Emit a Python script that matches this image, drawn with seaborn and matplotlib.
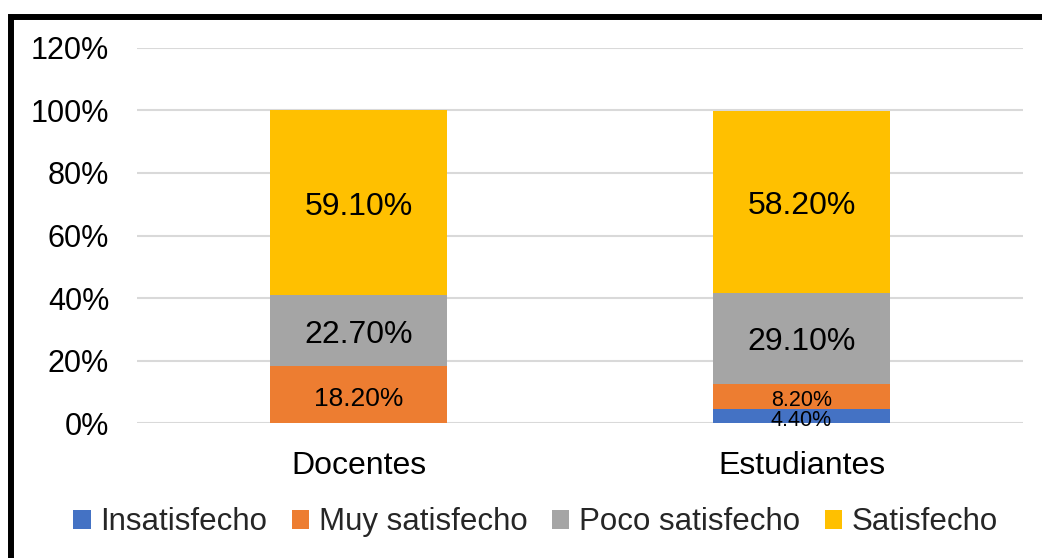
import matplotlib
matplotlib.use("Agg")
import matplotlib.pyplot as plt
from matplotlib.patches import Patch
from matplotlib.lines import Line2D
from matplotlib.ticker import FuncFormatter
from matplotlib.transforms import offset_copy
import seaborn as sns

categories = ["Docentes", "Estudiantes"]
series = ["Insatisfecho", "Muy satisfecho", "Poco satisfecho", "Satisfecho"]
insatisfecho = [0.0, 4.4]
muy_satisfecho = [18.2, 8.2]
poco_satisfecho = [22.7, 29.1]
satisfecho = [59.1, 58.2]
colors = ["#4472C4", "#ED7D31", "#A5A5A5", "#FFC000"]
# label font sizes per series / category (Excel shrinks small labels)
label_sizes = {
    "Insatisfecho": [15.5, 15.5],
    "Muy satisfecho": [19, 15.5],
    "Poco satisfecho": [23, 23],
    "Satisfecho": [23, 23],
}

sns.set_style("white")
plt.rcParams["font.family"] = ["Liberation Sans", "DejaVu Sans"]

fig = plt.figure(figsize=(10.42, 5.58), dpi=100)
ax = fig.add_axes([0.1315, 0.2419, 0.8503, 0.6721])
shifted = offset_copy(ax.transData, fig=fig, x=0, y=-4, units="dots")

values = [insatisfecho, muy_satisfecho, poco_satisfecho, satisfecho]
bottoms = [0.0, 0.0]
for name, vals, col in zip(series, values, colors):
    sns.barplot(x=categories, y=vals, bottom=bottoms, color=col, width=0.4,
                saturation=1, ax=ax, linewidth=0)
    for i, v in enumerate(vals):
        if v > 0:
            ax.text(i, bottoms[i] + v / 2, f"{v:.2f}%", ha="center", va="center",
                    fontsize=label_sizes[name][i], color="black",
                    transform=shifted)
    bottoms = [b + v for b, v in zip(bottoms, vals)]

ax.set_ylim(0, 120)
ax.set_xlim(-0.5, 1.5)
ax.set_yticks(range(0, 121, 20))
ax.yaxis.set_major_formatter(FuncFormatter(lambda y, _: f"{int(y)}%"))
ax.grid(axis="y", color="#d9d9d9", linewidth=1.5)
ax.set_axisbelow(True)
for s in ax.spines.values():
    s.set_visible(False)
ax.tick_params(axis="y", length=0, labelsize=22, colors="black", pad=20)
ax.tick_params(axis="x", length=0, labelsize=23, colors="black", pad=20)
ax.set_xlabel("")
ax.set_ylabel("")

handles = [Patch(facecolor=c, edgecolor="none") for c in colors]
fig.legend(handles, series, loc="center", bbox_to_anchor=(0.514, 0.064), ncol=4,
           frameon=False, fontsize=22.5, handlelength=0.55, handleheight=0.55,
           handletextpad=0.3, columnspacing=0.8)

# partial black frame (top and left edges)
fig.add_artist(Line2D([1.0, 10.5 / 1042, 10.5 / 1042],
                      [1 - 17 / 558, 1 - 17 / 558, 0.0],
                      transform=fig.transFigure, color="black", linewidth=4.3,
                      solid_joinstyle="miter", solid_capstyle="butt"))

fig.savefig("out.png", dpi=100, facecolor="white")
